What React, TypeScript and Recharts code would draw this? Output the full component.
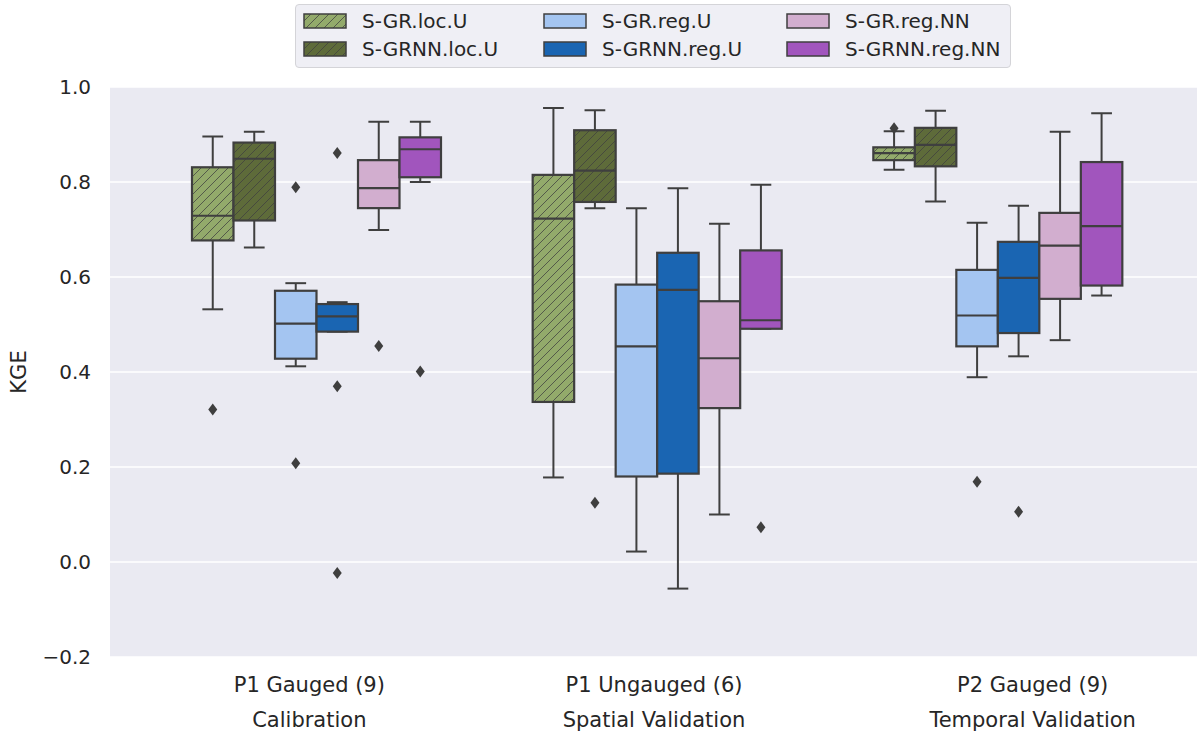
import { ComposedChart, Bar, XAxis, YAxis, CartesianGrid } from 'recharts'

// [lower whisker, q1, median, q3, upper whisker] per category
type Stat = [number, number, number, number, number]

const CATEGORIES = ['P1 Gauged (9)', 'P1 Ungauged (6)', 'P2 Gauged (9)']
const CATEGORY_SUB = ['Calibration', 'Spatial Validation', 'Temporal Validation']
const SERIES = ['S-GR.loc.U', 'S-GRNN.loc.U', 'S-GR.reg.U', 'S-GRNN.reg.U', 'S-GR.reg.NN', 'S-GRNN.reg.NN']
const Y_TICKS = [-0.2, 0, 0.2, 0.4, 0.6, 0.8, 1.0]

const grLocU: Stat[] = [
  [0.532, 0.677, 0.729, 0.831, 0.896],
  [0.178, 0.337, 0.723, 0.815, 0.956],
  [0.826, 0.846, 0.861, 0.873, 0.907],
]
const grLocUOut = [[0.321], [], [0.913]]

const grnnLocU: Stat[] = [
  [0.662, 0.719, 0.849, 0.883, 0.906],
  [0.745, 0.758, 0.824, 0.909, 0.951],
  [0.759, 0.833, 0.878, 0.914, 0.95],
]
const grnnLocUOut = [[], [0.125], []]

const grRegU: Stat[] = [
  [0.412, 0.428, 0.502, 0.571, 0.587],
  [0.022, 0.18, 0.454, 0.584, 0.745],
  [0.389, 0.454, 0.519, 0.615, 0.714],
]
const grRegUOut = [[0.789, 0.208], [], [0.169]]

const grnnRegU: Stat[] = [
  [0.485, 0.485, 0.517, 0.543, 0.547],
  [-0.056, 0.186, 0.573, 0.651, 0.787],
  [0.433, 0.482, 0.598, 0.674, 0.75],
]
const grnnRegUOut = [[0.861, 0.37, -0.023], [], [0.106]]

const grRegNN: Stat[] = [
  [0.699, 0.745, 0.787, 0.846, 0.927],
  [0.1, 0.324, 0.429, 0.549, 0.712],
  [0.467, 0.554, 0.666, 0.735, 0.906],
]
const grRegNNOut = [[0.455], [], []]

const grnnRegNN: Stat[] = [
  [0.8, 0.81, 0.869, 0.894, 0.927],
  [0.491, 0.491, 0.509, 0.656, 0.794],
  [0.561, 0.582, 0.707, 0.842, 0.945],
]
const grnnRegNNOut = [[0.401], [0.073], []]

const STATS = [grLocU, grnnLocU, grRegU, grnnRegU, grRegNN, grnnRegNN]
const OUTLIERS = [grLocUOut, grnnLocUOut, grRegUOut, grnnRegUOut, grRegNNOut, grnnRegNNOut]

const COLORS = ['#93aa6b', '#5e6b3a', '#a4c5f1', '#1a65b2', '#d2aecf', '#a155bd']
const HATCHED = [true, true, false, false, false, false]
const EDGE = '#3f3f3f'
const TEXT = '#262626'
const FONT = '"DejaVu Sans", sans-serif'
// tick labels in the source sit a little off the box-group centres
const LABEL_SHIFT = [-7, -3, 35]

const rows = CATEGORIES.map((name, i) => {
  const r: any = { name }
  SERIES.forEach((_, si) => {
    const st = STATS[si][i]
    const out = OUTLIERS[si][i]
    r[`s${si}`] = st
    r[`o${si}`] = out
    r[`r${si}`] = [Math.min(st[0], ...out), Math.max(st[4], ...out)]
  })
  return r
})

function fillFor(si: number, prefix: string) {
  return HATCHED[si] ? `url(#${prefix}${si})` : COLORS[si]
}

function HatchDefs({ prefix }: { prefix: string }) {
  return (
    <defs>
      {SERIES.map((_, si) =>
        HATCHED[si] ? (
          <pattern key={si} id={`${prefix}${si}`} patternUnits="userSpaceOnUse" width={9} height={9}>
            <rect width={9} height={9} fill={COLORS[si]} />
            <path d="M0,9 L9,0 M-1,1 L1,-1 M8,10 L10,8" stroke={EDGE} strokeOpacity={0.75} strokeWidth={1} />
          </pattern>
        ) : null
      )}
    </defs>
  )
}

function makeBoxShape(si: number) {
  return (p: any) => {
    const { x, width, payload } = p
    const top = Math.min(p.y, p.y + p.height)
    const h = Math.abs(p.height)
    const st: Stat = payload[`s${si}`]
    const out: number[] = payload[`o${si}`]
    const [lo, hi] = payload[`r${si}`]
    const py = (v: number) => top + ((hi - v) / (hi - lo)) * h
    const cx = x + width / 2
    const cap = width / 4
    return (
      <g>
        <line x1={cx} x2={cx} y1={py(st[3])} y2={py(st[4])} stroke={EDGE} strokeWidth={2} />
        <line x1={cx} x2={cx} y1={py(st[1])} y2={py(st[0])} stroke={EDGE} strokeWidth={2} />
        <line x1={cx - cap} x2={cx + cap} y1={py(st[4])} y2={py(st[4])} stroke={EDGE} strokeWidth={2} />
        <line x1={cx - cap} x2={cx + cap} y1={py(st[0])} y2={py(st[0])} stroke={EDGE} strokeWidth={2} />
        <rect
          x={x}
          y={py(st[3])}
          width={width}
          height={py(st[1]) - py(st[3])}
          fill={fillFor(si, 'hatch')}
          stroke={EDGE}
          strokeWidth={2.2}
        />
        <line x1={x} x2={x + width} y1={py(st[2])} y2={py(st[2])} stroke={EDGE} strokeWidth={2.2} />
        {out.map((v, k) => (
          <path
            key={k}
            d={`M${cx},${py(v) - 6} L${cx + 4.5},${py(v)} L${cx},${py(v) + 6} L${cx - 4.5},${py(v)} Z`}
            fill={EDGE}
          />
        ))}
      </g>
    )
  }
}

function CategoryTick(props: any) {
  const { x, y, payload } = props
  const i = payload.index
  const tx = x + LABEL_SHIFT[i]
  return (
    <text x={tx} y={y} textAnchor="middle" fill={TEXT} fontSize={21} fontFamily={FONT}>
      <tspan x={tx} dy={35}>{payload.value}</tspan>
      <tspan x={tx} dy={35}>{CATEGORY_SUB[i]}</tspan>
    </text>
  )
}

function YTitle(props: any) {
  const { viewBox } = props
  const cx = viewBox.x + 19
  const cy = viewBox.y + viewBox.height / 2
  return (
    <text
      x={cx}
      y={cy}
      transform={`rotate(-90, ${cx}, ${cy})`}
      textAnchor="middle"
      dominantBaseline="central"
      fill={TEXT}
      fontSize={21}
      fontFamily={FONT}
    >
      KGE
    </text>
  )
}

const fmt = (v: number) => (v < 0 ? '\u2212' + Math.abs(v).toFixed(1) : v.toFixed(1))

const LEGEND_COLS = [8, 248, 491]

function LegendBox() {
  return (
    <div
      style={{
        position: 'absolute',
        left: 295,
        top: 4,
        width: 716,
        height: 64,
        background: '#efeff5',
        border: '1px solid #d4d4d8',
        borderRadius: 4,
        boxSizing: 'border-box',
      }}
    >
      <svg width={0} height={0} style={{ position: 'absolute' }}>
        <HatchDefs prefix="lgd" />
      </svg>
      {SERIES.map((name, si) => {
        const col = Math.floor(si / 2)
        const row = si % 2
        const left = LEGEND_COLS[col]
        const top = row === 0 ? 9 : 37
        return (
          <div key={name}>
            <svg width={44} height={16} style={{ position: 'absolute', left: left - 1, top: top - 1 }}>
              <rect x={1} y={1} width={42} height={14} fill={fillFor(si, 'lgd')} stroke={EDGE} strokeWidth={1.5} />
            </svg>
            <div
              style={{
                position: 'absolute',
                left: left + 58,
                top: top - 5,
                fontSize: 20,
                lineHeight: '24px',
                color: TEXT,
                fontFamily: FONT,
                whiteSpace: 'nowrap',
              }}
            >
              {name}
            </div>
          </div>
        )
      })}
    </div>
  )
}

export default function App() {
  return (
    <div style={{ position: 'absolute', left: 0, top: 0, width: 1198, height: 738, background: '#fff' }}>
      <ComposedChart
        width={1198}
        height={738}
        data={rows}
        margin={{ top: 87, right: 1, bottom: 0, left: 0 }}
        barGap={0}
        barSize={41.5}
      >
        <HatchDefs prefix="hatch" />
        <CartesianGrid vertical={false} stroke="#ffffff" strokeWidth={1.5} fill="#eaeaf2" />
        <XAxis
          dataKey="name"
          type="category"
          height={81}
          padding={{ left: 36, right: 29 }}
          axisLine={false}
          tickLine={false}
          tickSize={0}
          tickMargin={0}
          tick={<CategoryTick />}
          interval={0}
        />
        <YAxis
          type="number"
          domain={[-0.2, 1.0]}
          ticks={Y_TICKS}
          width={110}
          axisLine={false}
          tickLine={false}
          tickSize={0}
          tickMargin={19}
          tickFormatter={fmt}
          tick={{ fill: TEXT, fontSize: 20, fontFamily: FONT }}
          label={<YTitle />}
          allowDataOverflow
        />
        {SERIES.map((name, si) => (
          <Bar
            key={name}
            name={name}
            dataKey={`r${si}`}
            shape={makeBoxShape(si)}
            isAnimationActive={false}
          />
        ))}
      </ComposedChart>
      <LegendBox />
    </div>
  )
}
